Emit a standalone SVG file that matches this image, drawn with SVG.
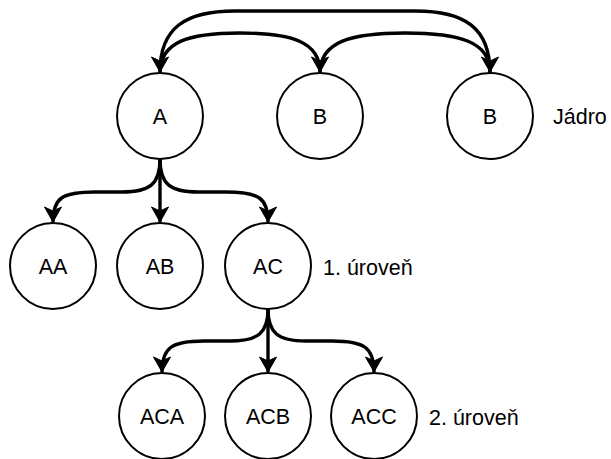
<svg xmlns="http://www.w3.org/2000/svg" width="611" height="459" viewBox="0 0 611 459">
<defs>
<style>
.node circle{fill:#fff;stroke:#000;stroke-width:2}
.node text,.lbl{font-family:"Liberation Sans",Arial,Helvetica,sans-serif;font-size:21.5px;fill:#000}
.node text{text-anchor:middle}
.edge{fill:none;stroke:#000;stroke-width:3.4;marker-end:url(#arr)}
</style>
<marker id="arr" viewBox="-16 -10 18 20" markerWidth="18" markerHeight="20" refX="0" refY="0" orient="auto" markerUnits="userSpaceOnUse">
<path d="M0,0 L-15,-8.5 L-11,0 L-15,8.5 Z" fill="#000" stroke="#000" stroke-width="1" stroke-linejoin="miter"/>
</marker>
</defs>
<rect width="611" height="459" fill="#fff"/>
<g id="connectors">
<path class="edge" d="M160,73 C160,42 188,33 240,33 C292,33 320,42 320,72"/>
<path class="edge" d="M320,73 C320,42 350,33 405,33 C460,33 490,42 490,72"/>
<path class="edge" d="M490,73 C490,28 465,11 415,11 L235,11 C185,11 160,28 160,72"/>
<path class="edge" d="M160,159 C160,184 150,192 122,192 L95,192 C62,192 53,198 53,222"/>
<path class="edge" d="M160,159 L160,222"/>
<path class="edge" d="M160,159 C160,184 170,192 198,192 L226,192 C259,192 268,198 268,222"/>
<path class="edge" d="M268,309 C268,333 258,341 230,341 L204,341 C171,341 162,348 162,372"/>
<path class="edge" d="M268,309 L268,372"/>
<path class="edge" d="M268,309 C268,333 278,341 306,341 L332,341 C365,341 374,348 374,372"/>
</g>
<g id="A" class="node"><circle cx="160" cy="116" r="43"/><text x="160" y="123.5">A</text></g>
<g id="B1" class="node"><circle cx="320" cy="116" r="43"/><text x="320" y="123.5">B</text></g>
<g id="B2" class="node"><circle cx="490" cy="116" r="43"/><text x="490" y="123.5">B</text></g>
<g id="AA" class="node"><circle cx="53" cy="266" r="43"/><text x="53" y="273.5">AA</text></g>
<g id="AB" class="node"><circle cx="160" cy="266" r="43"/><text x="160" y="273.5">AB</text></g>
<g id="AC" class="node"><circle cx="268" cy="266" r="43"/><text x="268" y="273.5">AC</text></g>
<g id="ACA" class="node"><circle cx="162" cy="416" r="43"/><text x="162" y="423.5">ACA</text></g>
<g id="ACB" class="node"><circle cx="268" cy="416" r="43"/><text x="268" y="423.5">ACB</text></g>
<g id="ACC" class="node"><circle cx="374" cy="416" r="43"/><text x="374" y="423.5">ACC</text></g>
<g id="labels">
<text class="lbl" x="553" y="123.5">Jádro</text>
<text class="lbl" x="323" y="274.5">1. úroveň</text>
<text class="lbl" x="429" y="424.5">2. úroveň</text>
</g>
</svg>
